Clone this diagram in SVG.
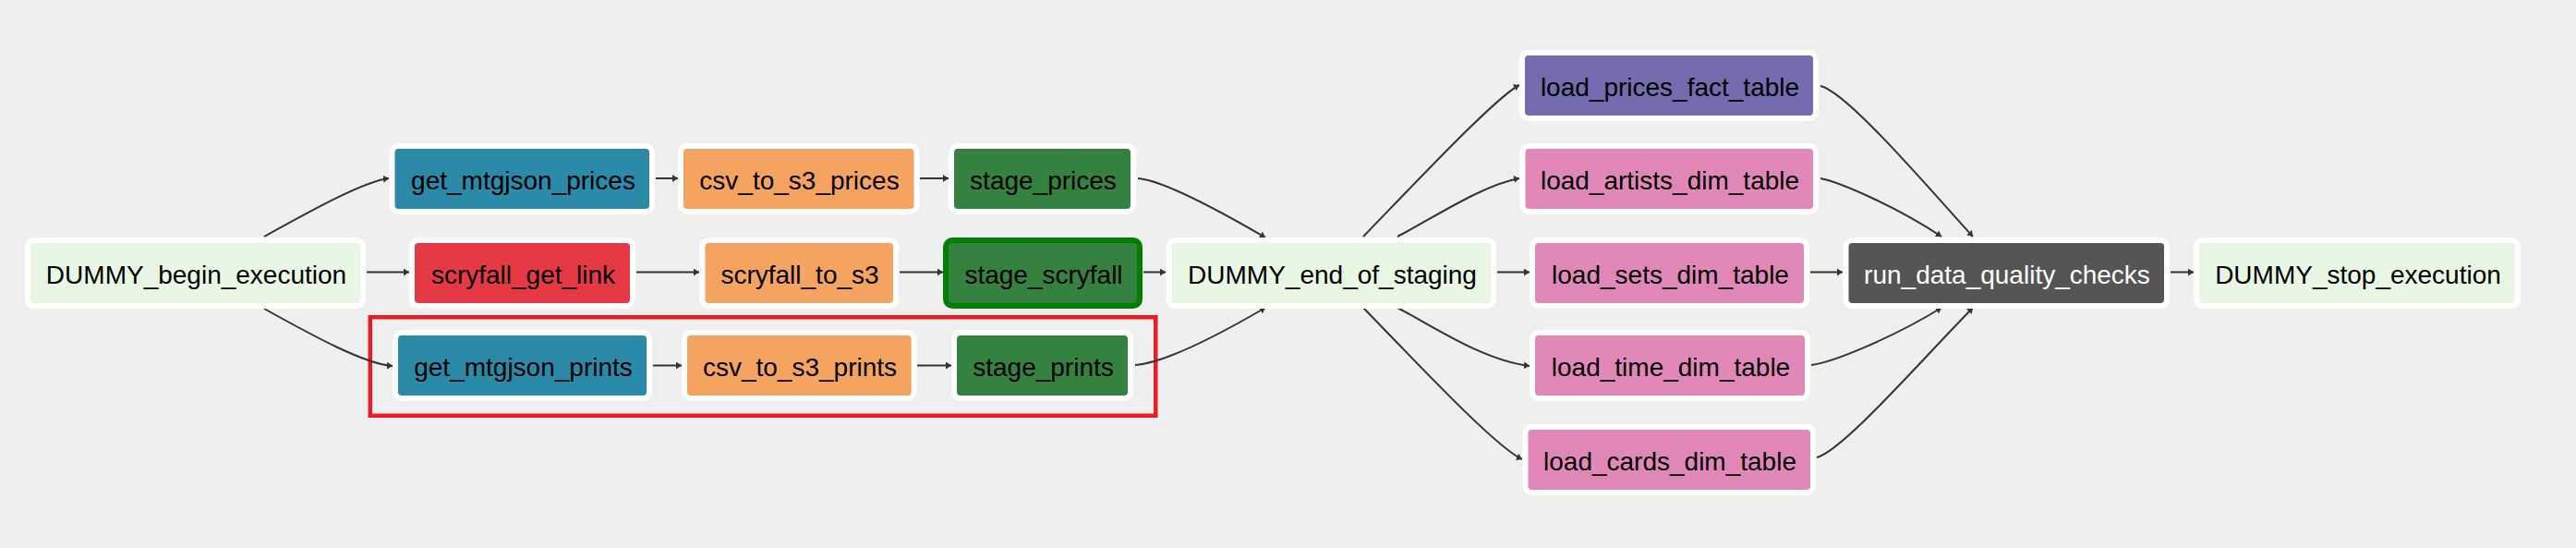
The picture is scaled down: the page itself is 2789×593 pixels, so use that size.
<svg xmlns="http://www.w3.org/2000/svg" width="2789" height="593" viewBox="0 0 2789 593">
<style>
.n rect{stroke:#ffffff;stroke-width:6}
.n text{font-family:"Liberation Sans",Arial,sans-serif;font-size:28px;fill:#000000;text-anchor:middle}
.dummy rect{fill:#e8f7e4}
.teal rect{fill:#2a8aa8}
.red rect{fill:#e63946}
.orange rect{fill:#f4a460}
.green rect{fill:#358140}
.purple rect{fill:#746cae}
.pink rect{fill:#e288b8}
.gray rect{fill:#555555}
.gray text{fill:#ffffff}
#stage_scryfall rect{stroke:#008000}
.edges path{fill:none;stroke:#333333;stroke-width:2;marker-end:url(#arr)}
</style>
<defs>
<marker id="arr" viewBox="0 0 6 8" refX="6" refY="4" markerWidth="6" markerHeight="8" markerUnits="userSpaceOnUse" orient="auto" preserveAspectRatio="none"><path d="M0,0 L6,4 L0,8 z" fill="#333333"/></marker>
</defs>
<rect x="0" y="0" width="2789" height="593" fill="#efefef"/>
<rect id="highlight" x="400.75" y="343.25" width="850.5" height="106.5" fill="none" stroke="#ed1c24" stroke-width="4.5"/>
<g class="edges">
<path d="M286 256 C340 226,395 196,421 193"/>
<path d="M397 294.5 L443 294.5"/>
<path d="M286 334 C340 364,395 394,425 396"/>
<path d="M710 193 L734 193"/>
<path d="M689 294.5 L757 294.5"/>
<path d="M707 395.5 L738 395.5"/>
<path d="M996 193 L1027 193"/>
<path d="M974 294.5 L1021 294.5"/>
<path d="M993 395.5 L1030 395.5"/>
<path d="M1232 193 C1258 195,1315 225,1370 257"/>
<path d="M1238 294.5 L1262 294.5"/>
<path d="M1229 395 C1258 393,1315 365,1370 333"/>
<path d="M1476 256 C1540 190,1620 105,1645 92"/>
<path d="M1513 256 C1550 237,1605 200,1645 193"/>
<path d="M1621 294.5 L1656 294.5"/>
<path d="M1513 333 C1550 352,1605 390,1656 396"/>
<path d="M1476 333 C1540 399,1620 484,1648 497"/>
<path d="M1971 93 C2000 100,2085 200,2136 256"/>
<path d="M1971 193 C1995 198,2055 225,2102 256"/>
<path d="M1960 294.5 L1995 294.5"/>
<path d="M1961 395 C1985 392,2050 365,2102 333"/>
<path d="M1967 495 C1995 488,2080 390,2136 333"/>
<path d="M2350 294.5 L2375 294.5"/>
</g>
<g id="DUMMY_begin_execution" class="n dummy"><rect x="30" y="260" width="363" height="71" rx="7"/><text x="212.5" y="306.5">DUMMY_begin_execution</text></g>
<g id="get_mtgjson_prices" class="n teal"><rect x="424.5" y="158" width="281.5" height="71" rx="7"/><text x="566.5" y="204.5">get_mtgjson_prices</text></g>
<g id="scryfall_get_link" class="n red"><rect x="446" y="260" width="239" height="71" rx="7"/><text x="566.5" y="306.5">scryfall_get_link</text></g>
<g id="get_mtgjson_prints" class="n teal"><rect x="428" y="360" width="275" height="71" rx="7"/><text x="566.5" y="406.5">get_mtgjson_prints</text></g>
<g id="csv_to_s3_prices" class="n orange"><rect x="737" y="158" width="255.5" height="71" rx="7"/><text x="865.5" y="204.5">csv_to_s3_prices</text></g>
<g id="scryfall_to_s3" class="n orange"><rect x="760.5" y="260" width="209.5" height="71" rx="7"/><text x="866" y="306.5">scryfall_to_s3</text></g>
<g id="csv_to_s3_prints" class="n orange"><rect x="741" y="360" width="248.6" height="71" rx="7"/><text x="866" y="406.5">csv_to_s3_prints</text></g>
<g id="stage_prices" class="n green"><rect x="1030" y="158" width="197" height="71" rx="7"/><text x="1129.5" y="204.5">stage_prices</text></g>
<g id="stage_scryfall" class="n green"><rect x="1024" y="260" width="210" height="71" rx="7"/><text x="1130" y="306.5">stage_scryfall</text></g>
<g id="stage_prints" class="n green"><rect x="1033" y="360" width="191" height="71" rx="7"/><text x="1129.5" y="406.5">stage_prints</text></g>
<g id="DUMMY_end_of_staging" class="n dummy"><rect x="1265.5" y="260" width="351.5" height="71" rx="7"/><text x="1442.5" y="306.5">DUMMY_end_of_staging</text></g>
<g id="load_prices_fact_table" class="n purple"><rect x="1648" y="57" width="318" height="71" rx="7"/><text x="1808" y="103.5">load_prices_fact_table</text></g>
<g id="load_artists_dim_table" class="n pink"><rect x="1648.5" y="158" width="317.5" height="71" rx="7"/><text x="1808" y="204.5">load_artists_dim_table</text></g>
<g id="load_sets_dim_table" class="n pink"><rect x="1659" y="260" width="297" height="71" rx="7"/><text x="1808.5" y="306.5">load_sets_dim_table</text></g>
<g id="load_time_dim_table" class="n pink"><rect x="1659" y="360" width="298" height="71" rx="7"/><text x="1809" y="406.5">load_time_dim_table</text></g>
<g id="load_cards_dim_table" class="n pink"><rect x="1651.5" y="462" width="311.5" height="71" rx="7"/><text x="1808" y="508.5">load_cards_dim_table</text></g>
<g id="run_data_quality_checks" class="n gray"><rect x="1998.5" y="260" width="347.5" height="71" rx="7"/><text x="2173" y="306.5">run_data_quality_checks</text></g>
<g id="DUMMY_stop_execution" class="n dummy"><rect x="2378" y="260" width="348" height="71" rx="7"/><text x="2553" y="306.5">DUMMY_stop_execution</text></g>
</svg>
